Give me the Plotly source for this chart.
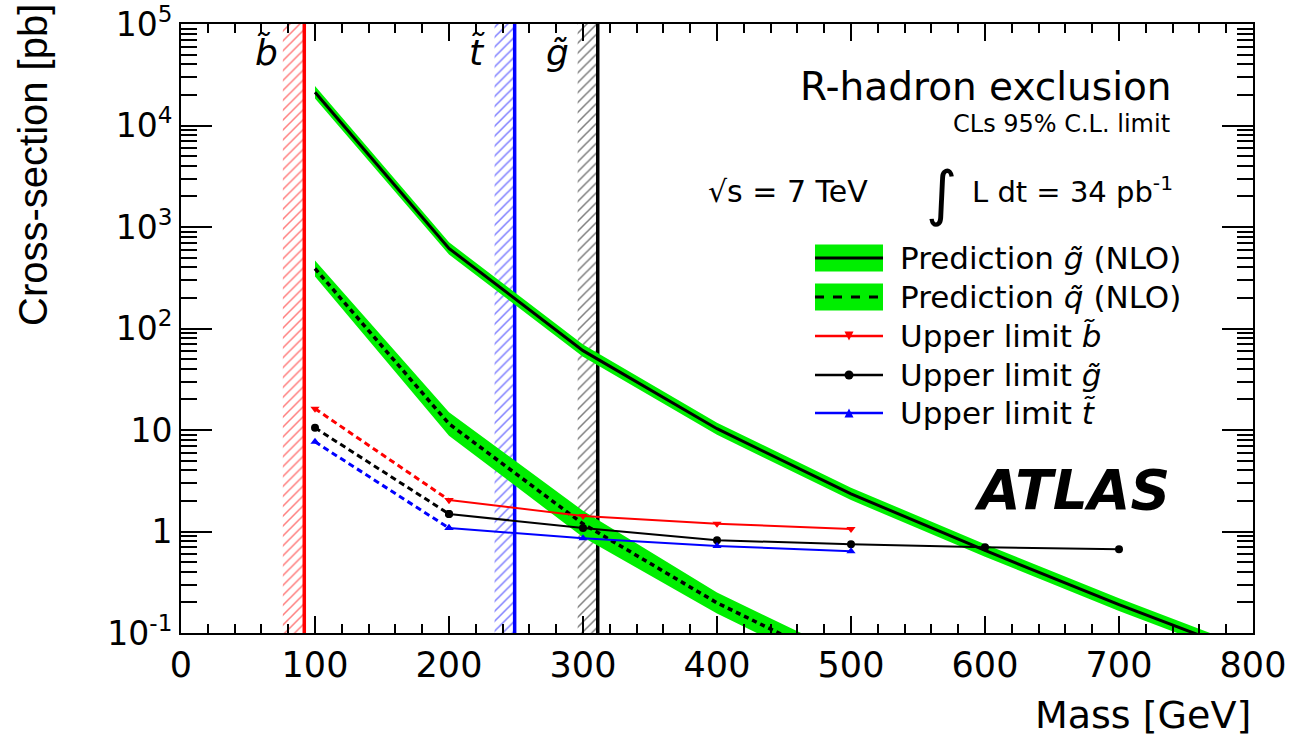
import plotly.graph_objects as go

# ---------------- data ----------------
mass_pred_gluino = [100, 200, 300, 400, 500, 600, 700, 800]
pred_gluino = [21300, 615, 60.5, 10.3, 2.35, 0.65, 0.19, 0.06]
pred_gluino_lo = [18500, 535, 52.6, 8.96, 2.04, 0.565, 0.165, 0.052]
pred_gluino_hi = [24500, 707, 69.6, 11.8, 2.70, 0.75, 0.22, 0.069]

mass_pred_squark = [100, 200, 300, 400, 500]
pred_squark = [390, 11.5, 1.19, 0.198, 0.045]
pred_squark_lo = [325, 8.8, 0.88, 0.156, 0.035]
pred_squark_hi = [468, 15.0, 1.6, 0.25, 0.058]

mass_lim_sbottom = [100, 200, 300, 400, 500]
lim_sbottom = [16.2, 2.04, 1.42, 1.19, 1.06]
mass_lim_gluino = [100, 200, 300, 400, 500, 600, 700]
lim_gluino = [10.5, 1.49, 1.08, 0.82, 0.75, 0.70, 0.67]
mass_lim_stop = [100, 200, 300, 400, 500]
lim_stop = [7.65, 1.08, 0.86, 0.72, 0.64]

# excluded mass limits (GeV) and the hatched band start
excl_names = ["b", "t", "g"]
excl_limit = [92, 249, 311]
excl_band_lo = [76, 234, 296]
excl_colors = ["#ff0000", "#0000ff", "#000000"]

x_ticks = [0, 100, 200, 300, 400, 500, 600, 700, 800]
y_tickvals = [0.1, 1, 10, 100, 1000, 10000, 100000]
y_ticktext = ["10<sup>-1</sup>", "1", "10", "10<sup>2</sup>", "10<sup>3</sup>", "10<sup>4</sup>", "10<sup>5</sup>"]

GREEN = "#00ee00"
FONT = "DejaVu Sans"

# ---------------- geometry helpers ----------------
W, H = 1289, 736
ML, MR, MT, MB = 181, 36, 24, 103
PW, PH = W - ML - MR, H - MT - MB


def px(xp):
    return (xp - ML) / PW


def py(yp):
    return (H - MB - yp) / PH


fig = go.Figure()

YLO, YHI = 0.05, 2e5

# hatched exclusion regions + vertical limit lines
for name, lim, lo, col in zip(excl_names, excl_limit, excl_band_lo, excl_colors):
    fig.add_trace(go.Scatter(
        x=[lo, lim, lim, lo, lo], y=[YLO, YLO, YHI, YHI, YLO],
        mode="lines", fill="toself", line=dict(width=0),
        fillcolor="rgba(255,255,255,0)",
        fillpattern=dict(shape="/", fgcolor=col, bgcolor="rgba(255,255,255,0)", size=7, solidity=0.22),
        showlegend=False, hoverinfo="skip"))
    fig.add_trace(go.Scatter(
        x=[lim, lim], y=[YLO, YHI], mode="lines",
        line=dict(color=col, width=3.5), showlegend=False, hoverinfo="skip"))

# prediction bands
for m, lo, hi in [(mass_pred_gluino, pred_gluino_lo, pred_gluino_hi),
                  (mass_pred_squark, pred_squark_lo, pred_squark_hi)]:
    fig.add_trace(go.Scatter(x=m, y=lo, mode="lines", line=dict(width=0, color=GREEN),
                             showlegend=False, hoverinfo="skip"))
    fig.add_trace(go.Scatter(x=m, y=hi, mode="lines", line=dict(width=0, color=GREEN),
                             fill="tonexty", fillcolor=GREEN, showlegend=False, hoverinfo="skip"))

fig.add_trace(go.Scatter(x=mass_pred_gluino, y=pred_gluino, mode="lines",
                         line=dict(color="black", width=3), showlegend=False))
fig.add_trace(go.Scatter(x=mass_pred_squark, y=pred_squark, mode="lines",
                         line=dict(color="black", width=3.5, dash="5px,4px"), showlegend=False))

# upper limits: dashed from first to second point, solid after
for m, v, col, sym in [(mass_lim_sbottom, lim_sbottom, "#ff0000", "triangle-down"),
                       (mass_lim_gluino, lim_gluino, "#000000", "circle"),
                       (mass_lim_stop, lim_stop, "#0000ff", "triangle-up")]:
    fig.add_trace(go.Scatter(x=m[:2], y=v[:2], mode="lines+markers",
                             line=dict(color=col, width=3, dash="6px,4px"),
                             marker=dict(symbol=sym, size=8, color=col), showlegend=False))
    fig.add_trace(go.Scatter(x=m[1:], y=v[1:], mode="lines+markers",
                             line=dict(color=col, width=2),
                             marker=dict(symbol=sym, size=8, color=col), showlegend=False))

# ---------------- manual legend ----------------
shapes = []
annotations = []
lx0, lx1, lxm = 815, 883, 849
legend_rows = [
    (258, "band", "solid", "black", None, "Prediction <i>g̃</i> (NLO)"),
    (297, "band", "dash", "black", None, "Prediction <i>q̃</i> (NLO)"),
    (336, "line", "solid", "#ff0000", "tdown", "Upper limit <i>b̃</i>"),
    (375, "line", "solid", "#000000", "circle", "Upper limit <i>g̃</i>"),
    (413, "line", "solid", "#0000ff", "tup", "Upper limit <i>t̃</i>"),
]
for yc, kind, dash, col, mk, label in legend_rows:
    if kind == "band":
        shapes.append(dict(type="rect", xref="paper", yref="paper",
                           x0=px(lx0), x1=px(lx1), y0=py(yc + 13.5), y1=py(yc - 13.5),
                           fillcolor=GREEN, line=dict(width=0)))
        shapes.append(dict(type="line", xref="paper", yref="paper",
                           x0=px(lx0), x1=px(lx1), y0=py(yc), y1=py(yc),
                           line=dict(color=col, width=3, dash="solid" if dash == "solid" else "dash")))
    else:
        shapes.append(dict(type="line", xref="paper", yref="paper",
                           x0=px(lx0), x1=px(lx1), y0=py(yc), y1=py(yc),
                           line=dict(color=col, width=2.5)))
        s = 4.5
        if mk == "circle":
            shapes.append(dict(type="circle", xref="paper", yref="paper",
                               x0=px(lxm - s), x1=px(lxm + s), y0=py(yc + s), y1=py(yc - s),
                               fillcolor=col, line=dict(width=0)))
        elif mk == "tdown":
            path = f"M{px(lxm - s)},{py(yc - s)} L{px(lxm + s)},{py(yc - s)} L{px(lxm)},{py(yc + s)} Z"
            shapes.append(dict(type="path", xref="paper", yref="paper", path=path,
                               fillcolor=col, line=dict(width=0)))
        else:
            path = f"M{px(lxm - s)},{py(yc + s)} L{px(lxm + s)},{py(yc + s)} L{px(lxm)},{py(yc - s)} Z"
            shapes.append(dict(type="path", xref="paper", yref="paper", path=path,
                               fillcolor=col, line=dict(width=0)))
    annotations.append(dict(x=px(898), y=py(yc), xref="paper", yref="paper",
                            text=label, showarrow=False, xanchor="left", yanchor="middle",
                            font=dict(family=FONT, size=31, color="black")))


def txt(x, y, text, size, xanchor="left", yanchor="middle", family=FONT, angle=0):
    annotations.append(dict(x=px(x), y=py(y), xref="paper", yref="paper", text=text,
                            showarrow=False, xanchor=xanchor, yanchor=yanchor, textangle=angle,
                            font=dict(family=family, size=size, color="black")))


txt(1174, 86, "R-hadron exclusion", 39, xanchor="right")
txt(1172, 124, "CLs 95% C.L. limit", 24, xanchor="right")
txt(706, 191, "√s = 7 TeV", 30)
txt(941, 193, "∫", 60, xanchor="center")
txt(970, 190, "L dt = 34 pb<sup>-1</sup>", 29)
txt(972, 490, "<b><i>ATLAS</i></b>", 55)

# particle labels on the exclusion bands
for xc, lab in zip([266, 477, 557], ["<i>b̃</i>", "<i>t̃</i>", "<i>g̃</i>"]):
    txt(xc, 52, lab, 36, xanchor="center")

# axis titles
txt(33, 165, "Cross-section [pb]", 40, xanchor="center", family="Liberation Sans", angle=-90)
txt(1253, 715, "Mass [GeV]", 38, xanchor="right")

y_minor = [k * 10 ** d for d in range(-1, 5) for k in range(2, 10)]

fig.update_layout(
    width=W, height=H,
    margin=dict(l=ML, r=MR, t=MT, b=MB, pad=0, autoexpand=False),
    plot_bgcolor="white", paper_bgcolor="white",
    showlegend=False,
    shapes=shapes, annotations=annotations,
    xaxis=dict(range=[0, 800], tickvals=x_ticks, ticks="inside", ticklen=17, tickwidth=2,
               tickcolor="black", showline=True, linecolor="black", linewidth=2, mirror="allticks",
               showgrid=False, zeroline=False, automargin=False,
               tickfont=dict(family=FONT, size=35, color="black"),
               minor=dict(dtick=20, tick0=0, ticks="inside", ticklen=9, tickwidth=2,
                          tickcolor="black", showgrid=False)),
    yaxis=dict(type="log", range=[-1, 5], tickvals=y_tickvals, ticktext=y_ticktext,
               ticks="inside", ticklen=31, tickwidth=2, tickcolor="black",
               showline=True, linecolor="black", linewidth=2, mirror="allticks",
               showgrid=False, zeroline=False, automargin=False,
               tickfont=dict(family=FONT, size=33, color="black"),
               minor=dict(tickvals=y_minor, ticks="inside", ticklen=16, tickwidth=2,
                          tickcolor="black", showgrid=False)),
)

fig.write_html("out.html")
